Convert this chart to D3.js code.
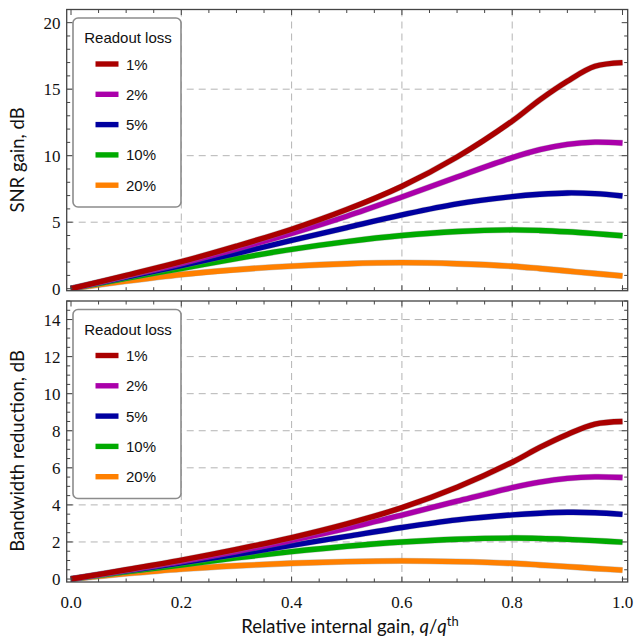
<!DOCTYPE html>
<html>
<head>
<meta charset="utf-8">
<script src="https://cdn.jsdelivr.net/npm/d3@7"></script>
<style>
  body { margin: 0; background: #fff; }
  svg { display: block; }
</style>
</head>
<body>
<script>
var width = 635;
var height = 639;

// relative internal gain q/q_th
var gainX = [0, 0.1, 0.2, 0.3, 0.4, 0.5, 0.6, 0.7, 0.8, 0.85, 0.9, 0.95, 1.0];

var lossLabels = ["1%", "2%", "5%", "10%", "20%"];
var lossColors = ["#aa0000", "#aa00aa", "#0000a0", "#00aa00", "#ff8000"];

// SNR gain, dB
var snr1 = [0, 1.0, 2.03, 3.2, 4.47, 5.95, 7.7, 9.9, 12.6, 14.2, 15.6, 16.72, 17.0];
var snr2 = [0, 0.95, 1.91, 3.0, 4.16, 5.45, 6.9, 8.4, 9.85, 10.45, 10.85, 11.02, 10.95];
var snr5 = [0, 0.88, 1.73, 2.65, 3.63, 4.6, 5.55, 6.38, 6.92, 7.1, 7.2, 7.15, 6.97];
var snr10 = [0, 0.78, 1.52, 2.27, 2.96, 3.54, 4.0, 4.3, 4.42, 4.38, 4.28, 4.14, 3.98];
var snr20 = [0, 0.57, 1.07, 1.43, 1.7, 1.88, 1.96, 1.88, 1.69, 1.52, 1.33, 1.14, 0.96];

// bandwidth reduction, dB
var bw1 = [0, 0.5, 1.02, 1.6, 2.24, 2.98, 3.85, 4.95, 6.3, 7.1, 7.8, 8.36, 8.5];
var bw2 = [0, 0.48, 0.96, 1.5, 2.08, 2.73, 3.45, 4.2, 4.93, 5.23, 5.43, 5.51, 5.48];
var bw5 = [0, 0.44, 0.87, 1.33, 1.82, 2.3, 2.78, 3.19, 3.46, 3.55, 3.6, 3.58, 3.49];
var bw10 = [0, 0.39, 0.76, 1.14, 1.48, 1.77, 2.0, 2.15, 2.21, 2.19, 2.14, 2.07, 1.99];
var bw20 = [0, 0.29, 0.54, 0.72, 0.85, 0.94, 0.98, 0.94, 0.85, 0.76, 0.67, 0.57, 0.48];

var xTicks = [0, 0.2, 0.4, 0.6, 0.8, 1.0];
var snrTicks = [0, 5, 10, 15, 20];
var bwTicks = [0, 2, 4, 6, 8, 10, 12, 14];

var svg = d3.select("body")
            .append("svg")
            .attr("width", width)
            .attr("height", height);

var x = d3.scaleLinear().domain([-0.0078, 1.0094]).range([66.7, 627.7]);

var panels = [
  { top: 9.5, bottom: 290.7, domain: [-0.15, 20.99], ticks: snrTicks, minor: 1, grid: [5, 10, 15],
    series: [snr1, snr2, snr5, snr10, snr20], title: "SNR gain, dB", xLabels: false },
  { top: 301, bottom: 582, domain: [-0.16, 15.0], ticks: bwTicks, minor: 0.5, grid: [2, 4, 6, 8, 10, 12, 14],
    series: [bw1, bw2, bw5, bw10, bw20], title: "Bandwidth reduction, dB", xLabels: true }
];

var tickFont = "'Liberation Serif', serif";
var titleFont = "Lato, 'Open Sans', sans-serif";
var legendFont = "'Liberation Sans', Arial, sans-serif";

panels.forEach(function(p, pi) {
  var y = d3.scaleLinear().domain(p.domain).range([p.bottom, p.top]);
  var g = svg.append("g");
  var x0 = x.range()[0], x1 = x.range()[1];

  // grid
  g.selectAll(".gx")
   .data([0.2, 0.4, 0.6, 0.8])
   .enter().append("line")
   .attr("x1", function(d) { return x(d); })
   .attr("x2", function(d) { return x(d); })
   .attr("y1", p.top).attr("y2", p.bottom)
   .attr("stroke", "#b4b4b4").attr("stroke-width", 1)
   .attr("stroke-dasharray", "7,5");
  g.selectAll(".gy")
   .data(p.grid)
   .enter().append("line")
   .attr("y1", function(d) { return y(d); })
   .attr("y2", function(d) { return y(d); })
   .attr("x1", x0).attr("x2", x1)
   .attr("stroke", "#b4b4b4").attr("stroke-width", 1)
   .attr("stroke-dasharray", "7,5");

  // curves
  var clipId = "clip" + pi;
  svg.append("clipPath").attr("id", clipId)
     .append("rect").attr("x", x0).attr("y", p.top)
     .attr("width", x1 - x0).attr("height", p.bottom - p.top);

  var line = d3.line()
               .x(function(d, i) { return x(gainX[i]); })
               .y(function(d) { return y(d); })
               .curve(d3.curveCatmullRom.alpha(0.5));

  var lines = g.append("g").attr("clip-path", "url(#" + clipId + ")");
  p.series.slice().reverse().forEach(function(s, k) {
    var idx = p.series.length - 1 - k;
    lines.append("path")
         .attr("d", line(s))
         .attr("fill", "none")
         .attr("stroke", "#888")
         .attr("stroke-opacity", 0.45)
         .attr("stroke-width", 6.4);
    lines.append("path")
         .attr("d", line(s))
         .attr("fill", "none")
         .attr("stroke", lossColors[idx])
         .attr("stroke-width", 5.4);
  });

  // frame ticks
  var tickColor = "#444";
  var xMinor = d3.range(0, 1.0001, 0.05);
  xMinor.forEach(function(v) {
    var major = Math.abs(v * 5 - Math.round(v * 5)) < 1e-6;
    var len = major ? 5.5 : 3.5;
    g.append("line").attr("x1", x(v)).attr("x2", x(v))
     .attr("y1", p.bottom).attr("y2", p.bottom - len)
     .attr("stroke", tickColor).attr("stroke-width", 1);
    g.append("line").attr("x1", x(v)).attr("x2", x(v))
     .attr("y1", p.top).attr("y2", p.top + len)
     .attr("stroke", tickColor).attr("stroke-width", 1);
  });
  var yMinor = d3.range(0, p.domain[1] + 1e-6, p.minor);
  var step = p.ticks[1] - p.ticks[0];
  yMinor.forEach(function(v) {
    var major = Math.abs(v / step - Math.round(v / step)) < 1e-6;
    var len = major ? 6 : 3.5;
    g.append("line").attr("y1", y(v)).attr("y2", y(v))
     .attr("x1", x0).attr("x2", x0 + len)
     .attr("stroke", tickColor).attr("stroke-width", 1);
    g.append("line").attr("y1", y(v)).attr("y2", y(v))
     .attr("x1", x1).attr("x2", x1 - len)
     .attr("stroke", tickColor).attr("stroke-width", 1);
  });

  g.append("rect")
   .attr("x", x0).attr("y", p.top)
   .attr("width", x1 - x0).attr("height", p.bottom - p.top)
   .attr("fill", "none").attr("stroke", "#444").attr("stroke-width", 1.3);

  // tick labels
  g.selectAll(".yl")
   .data(p.ticks)
   .enter().append("text")
   .attr("x", 60.5)
   .attr("y", function(d) { return y(d) + 6; })
   .attr("text-anchor", "end")
   .attr("font-family", tickFont)
   .attr("font-size", 17)
   .attr("fill", "#111")
   .text(function(d) { return d; });

  if (p.xLabels) {
    g.selectAll(".xl")
     .data(xTicks)
     .enter().append("text")
     .attr("x", function(d) { return x(d); })
     .attr("y", 608)
     .attr("text-anchor", "middle")
     .attr("font-family", tickFont)
     .attr("font-size", 17)
     .attr("fill", "#111")
     .text(function(d) { return d3.format(".1f")(d); });
  }

  // y title
  var ty = pi === 0 ? 160 : 451;
  g.append("text")
   .attr("transform", "translate(24," + ty + ") rotate(-90)")
   .attr("text-anchor", "middle")
   .attr("font-family", titleFont)
   .attr("font-size", 18.5)
   .attr("fill", "#111")
   .text(p.title);

  // legend
  var lx = 73, ly = p.top + 8.5;
  var lg = g.append("g");
  lg.append("rect")
    .attr("x", lx).attr("y", ly)
    .attr("width", 108).attr("height", 189)
    .attr("rx", 5).attr("ry", 5)
    .attr("fill", "#fff").attr("stroke", "#8c8c8c").attr("stroke-width", 1.6);
  lg.append("text")
    .attr("x", 128).attr("y", ly + 25)
    .attr("text-anchor", "middle")
    .attr("font-family", legendFont)
    .attr("font-size", 15)
    .attr("fill", "#111")
    .text("Readout loss");
  lossLabels.forEach(function(lab, i) {
    var yy = ly + 46 + i * 30.3;
    lg.append("line")
      .attr("x1", 95.5).attr("x2", 118.5)
      .attr("y1", yy).attr("y2", yy)
      .attr("stroke", lossColors[i]).attr("stroke-width", 5.4);
    lg.append("text")
      .attr("x", 126).attr("y", yy + 5.5)
      .attr("font-family", legendFont)
      .attr("font-size", 15)
      .attr("fill", "#111")
      .text(lab);
  });
});

// x title
var xt = svg.append("text")
            .attr("x", 350)
            .attr("y", 633)
            .attr("text-anchor", "middle")
            .attr("font-family", titleFont)
            .attr("font-size", 18.5)
            .attr("fill", "#111");
xt.append("tspan").text("Relative internal gain, ");
xt.append("tspan").attr("font-style", "italic").text("q");
xt.append("tspan").text("/");
xt.append("tspan").attr("font-style", "italic").text("q");
xt.append("tspan").attr("font-size", 13).attr("dy", -7).text("th");
</script>
</body>
</html>
